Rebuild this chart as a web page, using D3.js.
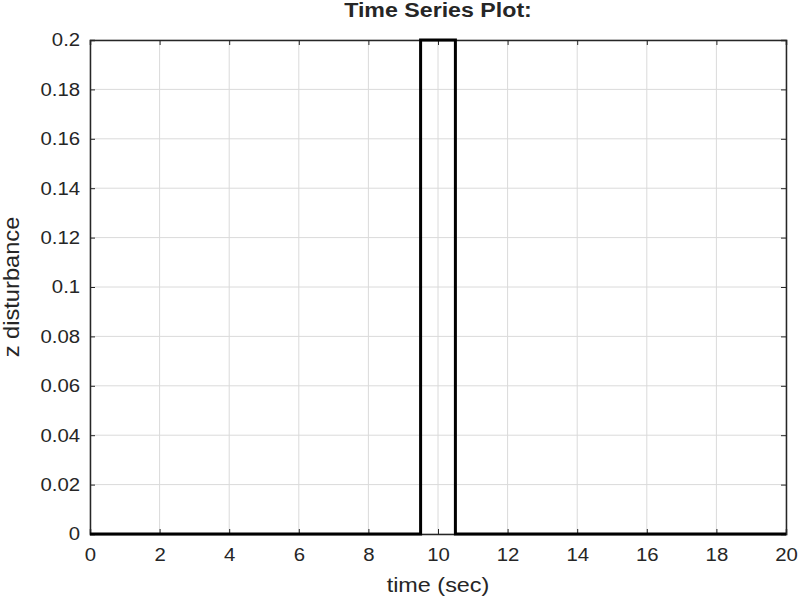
<!DOCTYPE html>
<html>
<head>
<meta charset="utf-8">
<script src="https://d3js.org/d3.v7.min.js"></script>
<style>
	body { margin: 0; background: #fff; }
	svg text { font-family: 'Liberation Sans', Arial, sans-serif; fill: #262626; }
</style>
</head>
<body>
<script>
// Pulse disturbance
const timeSec = [0, 9.5, 9.5, 10.5, 10.5, 20];
const zDisturbance = [0, 0, 0.2, 0.2, 0, 0];
const xTicks = [0, 2, 4, 6, 8, 10, 12, 14, 16, 18, 20];
const yTicks = [0, 0.02, 0.04, 0.06, 0.08, 0.1, 0.12, 0.14, 0.16, 0.18, 0.2];

const width = 800, height = 600;
const margin = { top: 40, right: 14, bottom: 66, left: 90 };
const stretch = 1.1; // the reference text is a little wider than it is tall

const svg = d3.select('body').append('svg')
	.attr('width', width)
	.attr('height', height);

const x = d3.scaleLinear().domain([0, 20]).range([margin.left, width - margin.right]);
const y = d3.scaleLinear().domain([0, 0.2]).range([height - margin.bottom, margin.top]);

// Grid
svg.append('g').selectAll('line')
	.data(xTicks)
.join('line')
	.attr('x1', d => x(d)).attr('x2', d => x(d))
	.attr('y1', y(0)).attr('y2', y(0.2))
	.attr('stroke', '#dadada').attr('stroke-width', 1);

svg.append('g').selectAll('line')
	.data(yTicks)
.join('line')
	.attr('x1', x(0)).attr('x2', x(20))
	.attr('y1', d => y(d)).attr('y2', d => y(d))
	.attr('stroke', '#dadada').attr('stroke-width', 1);

// Axes (ticks inward)
const xAxis = svg.append('g')
	.attr('transform', `translate(0,${y(0)})`)
	.call(d3.axisBottom(x).tickValues(xTicks).tickSize(-5).tickPadding(14).tickFormat(d3.format('d')));
const xAxisTop = svg.append('g')
	.attr('transform', `translate(0,${y(0.2)})`)
	.call(d3.axisTop(x).tickValues(xTicks).tickSize(-5).tickFormat(''));
const yAxis = svg.append('g')
	.attr('transform', `translate(${x(0)},0)`)
	.call(d3.axisLeft(y).tickValues(yTicks).tickSize(-5).tickPadding(9).tickFormat(d => d === 0 ? '0' : String(+d.toFixed(2))));
const yAxisRight = svg.append('g')
	.attr('transform', `translate(${x(20)},0)`)
	.call(d3.axisRight(y).tickValues(yTicks).tickSize(-5).tickFormat(''));

[xAxis, xAxisTop, yAxis, yAxisRight].forEach(g => {
	g.select('.domain').attr('stroke', '#262626').attr('stroke-width', 1.5);
	g.selectAll('.tick line').attr('stroke', '#262626').attr('stroke-width', 1);
	g.selectAll('.tick text')
		.style('font-size', '18.5px')
		.attr('fill', '#262626')
		.attr('transform', `scale(${stretch},1)`);
});

// Data line
const line = d3.line()
	.x((d, i) => x(timeSec[i]))
	.y(d => y(d));

svg.append('path')
	.datum(zDisturbance)
	.attr('d', line)
	.attr('fill', 'none')
	.attr('stroke', '#000')
	.attr('stroke-width', 3)
	.attr('stroke-linejoin', 'miter');

// Labels
const midX = (x(0) + x(20)) / 2;

svg.append('text')
	.attr('transform', `translate(${midX},17) scale(1.16,1)`)
	.attr('text-anchor', 'middle')
	.style('font-size', '20px')
	.style('font-weight', 'bold')
	.attr('fill', '#000')
	.text('Time Series Plot:');

svg.append('text')
	.attr('transform', `translate(${midX},592) scale(1.17,1)`)
	.attr('text-anchor', 'middle')
	.style('font-size', '20px')
	.text('time (sec)');

svg.append('text')
	.attr('transform', `translate(19,${(y(0) + y(0.2)) / 2}) rotate(-90) scale(1.1,1)`)
	.attr('text-anchor', 'middle')
	.style('font-size', '21.5px')
	.text('z disturbance');
</script>
</body>
</html>
